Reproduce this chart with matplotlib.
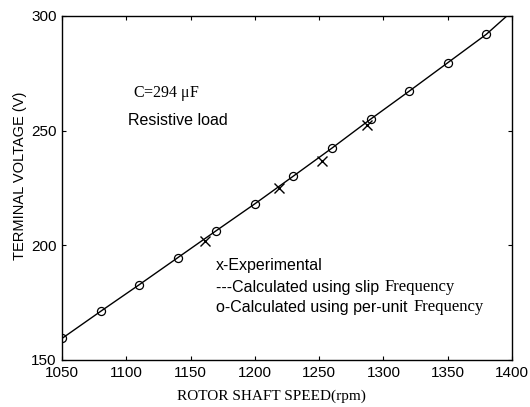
import matplotlib
matplotlib.use("Agg")
from matplotlib import pyplot as plt

# rotor speed (rpm) and terminal voltage (V)
calc_speed = [1050, 1080, 1110, 1140, 1170, 1200, 1230, 1260, 1290, 1320, 1350, 1380]
calc_volt = [159.4, 171.2, 182.8, 194.6, 206.4, 218.1, 230.2, 242.4, 255.0, 267.2, 279.6, 292.0]

slip_speed = [1050, 1080, 1110, 1140, 1170, 1200, 1230, 1260, 1290, 1320, 1350, 1380, 1400]
slip_volt = [159.4, 171.2, 182.8, 194.6, 206.4, 218.1, 230.2, 242.4, 255.0, 267.2, 279.6, 292.0, 302.0]

exp_speed = [1161, 1219, 1252, 1287]
exp_volt = [202.0, 225.0, 236.8, 252.3]

xticks = [1050, 1100, 1150, 1200, 1250, 1300, 1350, 1400]
yticks = [150, 200, 250, 300]

sans = 'Liberation Sans'
serif = 'Liberation Serif'

fig = plt.figure(figsize=(5.3, 4.07), dpi=100)
ax = fig.add_axes([0.117, 0.1155, 0.849, 0.8452])

ax.plot(slip_speed, slip_volt, color='black', lw=1.0)
ax.plot(calc_speed, calc_volt, 'o', mfc='none', mec='black', ms=5.8, mew=0.9)
ax.plot(exp_speed, exp_volt, 'x', color='black', ms=7, mew=1.0)

ax.set_xlim(1050, 1400)
ax.set_ylim(150, 300)
ax.set_xticks(xticks)
ax.set_yticks(yticks)
ax.tick_params(direction='in', top=True, right=True, length=3, width=0.8,
               labelsize=11, pad=4)
for lab in ax.get_xticklabels() + ax.get_yticklabels():
    lab.set_fontfamily(sans)
for sp in ax.spines.values():
    sp.set_linewidth(1.0)

fig.text(271 / 530, 1 - 396 / 407, 'ROTOR SHAFT SPEED(rpm)', family=serif,
         fontsize=11, ha='center', va='center')
fig.text(20 / 530, 1 - 176 / 407, 'TERMINAL VOLTAGE (V)', family=sans,
         fontsize=10.5, ha='center', va='center', rotation=90)

ax.text(1105, 266.4, 'C=294 $\\mathregular{\\mu}$F', family=serif, fontsize=11.5,
        va='center')
ax.text(1101, 254.6, 'Resistive load', family=sans, fontsize=11.5, va='center')

ax.text(1170, 191.4, 'x-Experimental', family=sans, fontsize=11.5, va='center')
t2 = ax.text(1170, 181.8, '---Calculated using slip', family=sans, fontsize=11.5,
             va='center')
t3 = ax.text(1170, 173.1, 'o-Calculated using per-unit', family=sans, fontsize=11.5,
             va='center')
for t in (t2, t3):
    ax.annotate('Frequency', xy=(1, 0.5), xycoords=t, xytext=(4, 0),
                textcoords='offset points', family=serif, fontsize=12,
                va='center')

fig.savefig('out.png', dpi=100)
